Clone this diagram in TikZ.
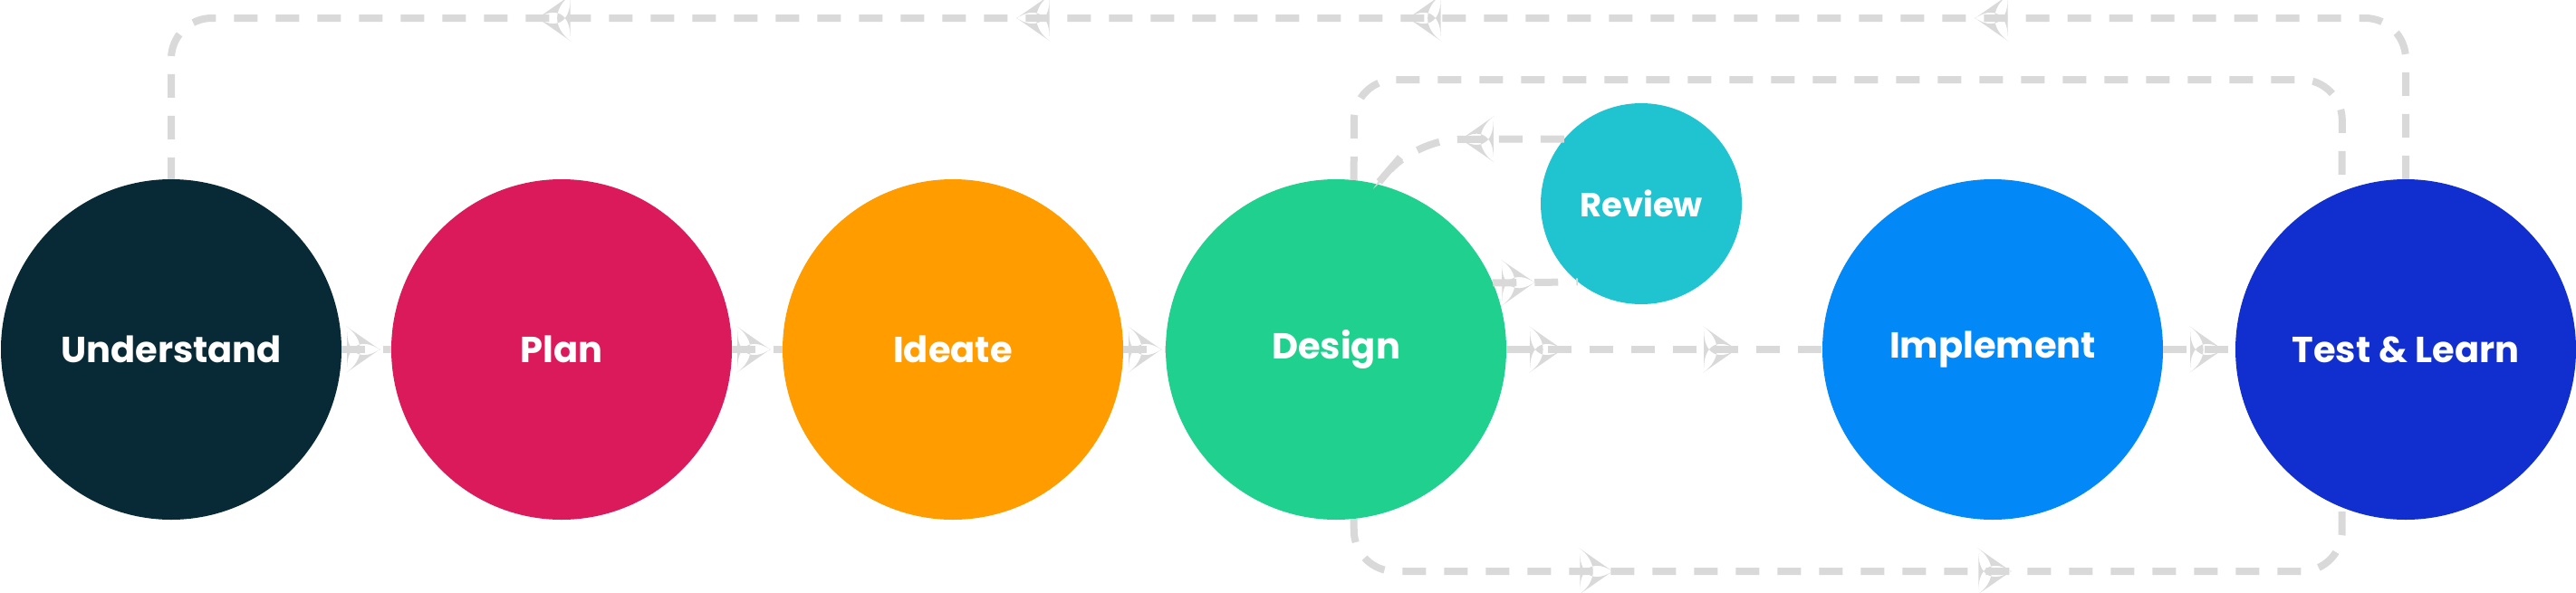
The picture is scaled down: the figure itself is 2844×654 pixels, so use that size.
\documentclass[tikz,border=0pt]{standalone}
\usepackage{fontspec}
\setmainfont{Poppins}
\usetikzlibrary{decorations.markings}
\definecolor{lineg}{HTML}{D9D9D9}
\definecolor{cU}{HTML}{072A36}
\definecolor{cP}{HTML}{DB1A5B}
\definecolor{cI}{HTML}{FF9C00}
\definecolor{cD}{HTML}{1FD08E}
\definecolor{cR}{HTML}{1FC4D0}
\definecolor{cM}{HTML}{0388F7}
\definecolor{cT}{HTML}{112FCF}
\tikzset{
  stage/.style={circle,fill=#1,minimum size=376pt,inner sep=0pt,text=white,font=\fontsize{40}{40}\selectfont\bfseries},
  flow/.style={draw=lineg,line width=8pt,dash pattern=on 26pt off 20pt,rounded corners=45pt},
  arrowat/.style={postaction={decorate,decoration={markings,mark=at position #1 with {\fill[lineg] (-22pt,-25pt)--(14pt,0pt)--(-22pt,25pt)--cycle;}}}}
}
\begin{document}
\begin{tikzpicture}[x=1pt,y=-1pt]
\useasboundingbox (0,0) rectangle (2844,654);
\node[stage=cU] (u) at (189,386) {Understand};
\node[stage=cP] (p) at (620,386) {Plan};
\node[stage=cI] (i) at (1052,386) {Ideate};
\node[stage=cD] (d) at (1475,386) {Design};
\node[stage=cR,minimum size=222pt,font=\fontsize{37}{37}\selectfont\bfseries] (r) at (1812,225) {Review};
\node[stage=cM] (m) at (2200,386) {Implement};
\node[stage=cT] (t) at (2656,386) {Test \& Learn};
% straight connectors
\draw[flow,arrowat=28pt] (u.east) -- (p.west);
\draw[flow,arrowat=28pt] (p.east) -- (i.west);
\draw[flow,arrowat=28pt] (i.east) -- (d.west);
\draw[flow,arrowat=48pt,arrowat=240pt] (d.east) -- (m.west);
\draw[flow,arrowat=52pt] (m.east) -- (t.west);
\draw[flow,arrowat=32pt] (d.23) -- (r.231);
% loops
\draw[flow,arrowat=620pt,arrowat=1246pt,arrowat=1678pt,arrowat=2207pt] (t.north) -- (2656,20) -- (189,20) -- (u.north);
\draw[flow] (d.84) -- (1495,88) -- (2586,88) -- (t.112);
\draw[flow,arrowat=100pt] (r.140) -- (1565,154) -- (1520,204) -- (d.76);
\draw[flow,arrowat=310pt,arrowat=750pt] (d.-84) -- (1495,631) -- (2586,631) -- (t.-112);
\end{tikzpicture}
\end{document}
